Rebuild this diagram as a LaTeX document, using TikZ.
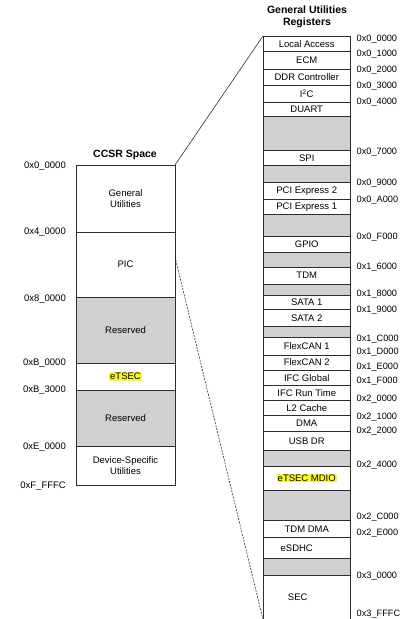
\documentclass[tikz,border=0pt]{standalone}
\usepackage{fontspec}
\setmainfont{Liberation Sans}
\usetikzlibrary{calc}
\definecolor{res}{RGB}{208,208,208}
\definecolor{hl}{RGB}{250,250,40}
\definecolor{ln}{RGB}{45,45,45}
\newcommand\hlt[1]{{\setlength{\fboxsep}{1pt}\colorbox{hl}{#1}}}
\newcommand\mkL[5]{\node[cellL,#4,minimum height={(#3-#2)*1pt}] (#1) at (125.5,{(#2+#3)/2}) {#5};}
\newcommand\mkR[5]{\node[cellR,#4,minimum height={(#3-#2)*1pt}] (#1) at (306.75,{(#2+#3)/2}) {#5};}
\tikzset{
  cellL/.style={draw=ln, line width=0.6pt, minimum width=99pt, inner sep=0pt, outer sep=0pt, align=center},
  cellR/.style={draw=ln, line width=0.6pt, minimum width=87.5pt, inner sep=0pt, outer sep=0pt, align=center},
  resv/.style={fill=res},
  wht/.style={fill=white},
  addrL/.style={anchor=east, inner sep=0pt},
  addrR/.style={anchor=west, inner sep=0pt, font=\fontsize{9.2}{11}\selectfont},
  ttl/.style={font=\bfseries\fontsize{10.5}{11.5}\selectfont, align=center, inner sep=0pt},
  conn/.style={draw=ln, line width=0.6pt}
}
\begin{document}
\begin{tikzpicture}[x=1pt,y=-1pt,font=\fontsize{9.5}{10.5}\selectfont]
\useasboundingbox (0,0) rectangle (411,619);
% titles
\node[ttl] (t1) at (125,155) {CCSR Space};
\node[ttl] (t2) at (307,17) {General Utilities\\Registers};
% left column
\mkL{gu}{165}{232}{wht}{General\\Utilities}
\mkL{pic}{232}{297}{wht}{PIC}
\mkL{res1}{297}{363}{resv}{\raisebox{-4pt}{Reserved}}
\mkL{etsec}{363}{390}{wht}{\hlt{eTSEC}}
\mkL{res2}{390}{446}{resv}{Reserved}
\mkL{dsu}{446}{485}{wht}{Device-Specific\\Utilities}
% left addresses
\node[addrL] (l0) at (66,166) {0x0\_0000};
\node[addrL] (l1) at (66,232) {0x4\_0000};
\node[addrL] (l2) at (66,299) {0x8\_0000};
\node[addrL] (l3) at (66,363) {0xB\_0000};
\node[addrL] (l4) at (66,390) {0xB\_3000};
\node[addrL] (l5) at (66,447) {0xE\_0000};
\node[addrL] (l6) at (66,486) {0xF\_FFFC};
% right column
\mkR{la}{36}{51.7}{wht}{Local Access}
\mkR{ecm}{51.7}{69}{wht}{ECM}
\mkR{ddr}{69}{85}{wht}{DDR Controller}
\mkR{i2c}{85}{102.3}{wht}{I\textsuperscript{2}C}
\mkR{duart}{102.3}{116}{wht}{DUART}
\mkR{g1}{116}{150}{resv}{}
\mkR{spi}{150}{165.7}{wht}{SPI}
\mkR{g2}{165.7}{182.3}{resv}{}
\mkR{pe2}{182.3}{199.3}{wht}{PCI Express 2}
\mkR{pe1}{199.3}{214.3}{wht}{PCI Express 1}
\mkR{g3}{214.3}{236}{resv}{}
\mkR{gpio}{236}{252.3}{wht}{GPIO}
\mkR{g4}{252.3}{267.3}{resv}{}
\mkR{tdm}{267.3}{284}{wht}{TDM}
\mkR{g5}{284}{295}{resv}{}
\mkR{sata1}{295}{309.3}{wht}{SATA 1}
\mkR{sata2}{309.3}{326.7}{wht}{SATA 2}
\mkR{g6}{326.7}{337.7}{resv}{}
\mkR{fc1}{337.7}{355}{wht}{FlexCAN 1}
\mkR{fc2}{355}{370}{wht}{FlexCAN 2}
\mkR{ifcg}{370}{385.7}{wht}{IFC Global}
\mkR{ifcr}{385.7}{400.7}{wht}{IFC Run Time}
\mkR{l2}{400.7}{415}{wht}{L2 Cache}
\mkR{dma}{415}{431.7}{wht}{DMA}
\mkR{usb}{431.7}{450}{wht}{USB DR}
\mkR{g7}{450}{466}{resv}{}
\mkR{mdio}{466}{490}{wht}{\hlt{eTSEC MDIO}}
\mkR{g8}{490}{520}{resv}{}
\mkR{tdmdma}{520}{537.7}{wht}{TDM DMA}
\mkR{esdhc}{537.7}{558.3}{wht}{\hspace*{-20pt}eSDHC}
\mkR{g9}{558.3}{575}{resv}{}
\mkR{sec}{575}{619.5}{wht}{\hspace*{-18pt}SEC}
% right addresses
\node[addrR] (r0) at (356.5,39) {0x0\_0000};
\node[addrR] (r1) at (356.5,54) {0x0\_1000};
\node[addrR] (r2) at (356.5,70) {0x0\_2000};
\node[addrR] (r3) at (356.5,86) {0x0\_3000};
\node[addrR] (r4) at (356.5,102) {0x0\_4000};
\node[addrR] (r5) at (356.5,152) {0x0\_7000};
\node[addrR] (r6) at (356.5,183) {0x0\_9000};
\node[addrR] (r7) at (356.5,200) {0x0\_A000};
\node[addrR] (r8) at (356.5,237) {0x0\_F000};
\node[addrR] (r9) at (356.5,267) {0x1\_6000};
\node[addrR] (r10) at (356.5,294) {0x1\_8000};
\node[addrR] (r11) at (356.5,310) {0x1\_9000};
\node[addrR] (r12) at (356.5,339) {0x1\_C000};
\node[addrR] (r13) at (356.5,352) {0x1\_D000};
\node[addrR] (r14) at (356.5,367) {0x1\_E000};
\node[addrR] (r15) at (356.5,381) {0x1\_F000};
\node[addrR] (r16) at (356.5,399) {0x2\_0000};
\node[addrR] (r17) at (356.5,417) {0x2\_1000};
\node[addrR] (r18) at (356.5,431) {0x2\_2000};
\node[addrR] (r19) at (356.5,465) {0x2\_4000};
\node[addrR] (r20) at (356.5,517) {0x2\_C000};
\node[addrR] (r21) at (356.5,533) {0x2\_E000};
\node[addrR] (r22) at (356.5,576) {0x3\_0000};
\node[addrR] (r23) at (356.5,614) {0x3\_FFFC};
% connectors
\draw[conn] (gu.north east) -- (la.north west);
\draw[conn, dash pattern=on 2pt off 1.2pt] ($(pic.north east)!0.385!(pic.south east)$) -- (sec.south west);
\end{tikzpicture}
\end{document}
